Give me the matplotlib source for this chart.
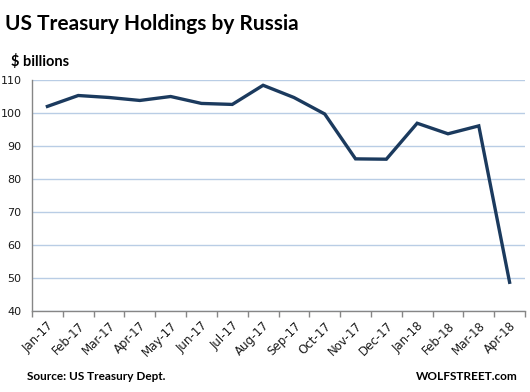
import matplotlib
matplotlib.use("Agg")
import matplotlib.pyplot as plt
import numpy as np

months = ["Jan-17", "Feb-17", "Mar-17", "Apr-17", "May-17", "Jun-17", "Jul-17", "Aug-17",
          "Sep-17", "Oct-17", "Nov-17", "Dec-17", "Jan-18", "Feb-18", "Mar-18", "Apr-18"]
holdings = [102.0, 105.3, 104.7, 103.8, 105.0, 102.9, 102.6, 108.4,
            104.7, 99.7, 86.1, 86.0, 96.9, 93.7, 96.1, 48.7]
yticks = [40, 50, 60, 70, 80, 90, 100, 110]

W, H = 530, 392
fig = plt.figure(figsize=(W / 100, H / 100), dpi=100)
ax = fig.add_axes([32 / W, 1 - 311 / H, (525 - 32) / W, (311 - 80) / H])

x = np.arange(len(months))
ax.plot(x, holdings, color="#1B3A5E", lw=2.4, solid_joinstyle="miter", zorder=3)

ax.set_xlim(-0.5, len(months) - 0.5)
ax.set_ylim(40, 110)
ax.set_yticks(yticks)
ax.yaxis.grid(True, color="#B9CDE5", lw=1.0)
ax.set_axisbelow(True)

for s in ["top", "right"]:
    ax.spines[s].set_visible(False)
for s in ["left", "bottom"]:
    ax.spines[s].set_color("#868686")
    ax.spines[s].set_linewidth(1.0)

ax.tick_params(axis="y", length=0, pad=7.5, labelsize=8, labelcolor="#1a1a1a")
ax.set_xticks(x)
ax.set_xticklabels(months, rotation=45, ha="right", rotation_mode="anchor", fontsize=8.5, color="#1a1a1a")
ax.tick_params(axis="x", which="major", length=0, pad=6)
ax.set_xticks(np.arange(len(months) + 1) - 0.5, minor=True)
ax.tick_params(axis="x", which="minor", length=4, color="#868686", width=1.0)

fig.text(5 / W, 1 - 24 / H, "US Treasury Holdings by Russia", fontsize=15, fontweight="bold",
         family="Lato", va="center", ha="left", color="black")
fig.text(11 / W, 1 - 62 / H, "$ billions", fontsize=10.5, fontweight="bold",
         family="Lato", va="center", ha="left", color="black")
fig.text(27 / W, 1 - 377 / H, "Source: US Treasury Dept.", fontsize=8.5, fontweight="bold",
         family="Lato", va="center", ha="left", color="black")
fig.text(416 / W, 1 - 377 / H, "WOLFSTREET.com", fontsize=8.5, fontweight="bold",
         family="Lato", va="center", ha="left", color="black")

fig.savefig("out.png", dpi=100)
